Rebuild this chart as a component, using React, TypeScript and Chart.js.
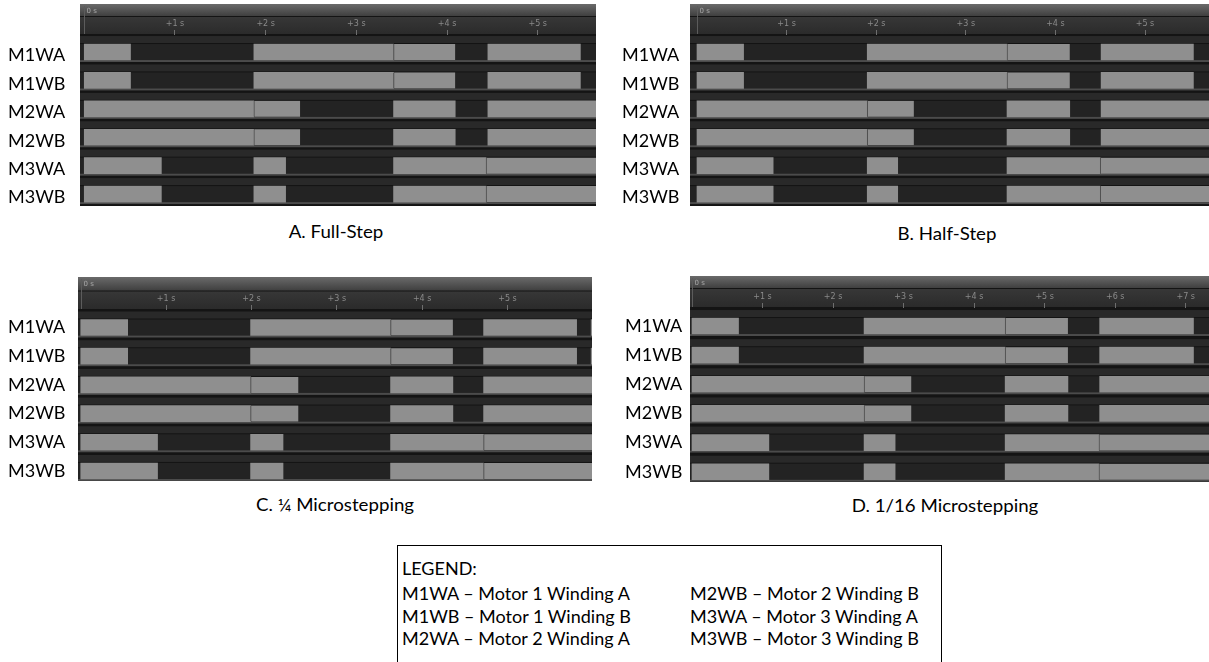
import React, { useEffect, useRef } from 'react';
import { Chart, registerables } from 'chart.js';

Chart.register(...registerables);

// ---------- data ----------
const channels = ['M1WA', 'M1WB', 'M2WA', 'M2WB', 'M3WA', 'M3WB'];

// A. Full-Step (seconds: [on, off])
const fullStepM1 = [[0, 0.51], [1.87, 3.41], [3.41, 4.09], [4.45, 5.47]];
const fullStepM2 = [[0, 1.87], [1.87, 2.38], [3.41, 4.09], [4.45, 7]];
const fullStepM3 = [[0, 0.85], [1.87, 2.22], [3.41, 4.43], [4.43, 7]];
const fullStepTicks = [1, 2, 3, 4, 5];

// B. Half-Step
const halfStepM1 = [[0, 0.52], [1.9, 3.46], [3.46, 4.16], [4.51, 5.54]];
const halfStepM2 = [[0, 1.9], [1.9, 2.42], [3.46, 4.16], [4.51, 7]];
const halfStepM3 = [[0, 0.85], [1.9, 2.24], [3.46, 4.5], [4.5, 7]];
const halfStepTicks = [1, 2, 3, 4, 5];

// C. 1/4 Microstepping
const quarterM1 = [[0, 0.55], [1.99, 3.63], [3.63, 4.36], [4.72, 5.81], [5.98, 7]];
const quarterM2 = [[0, 1.99], [1.99, 2.55], [3.63, 4.36], [4.72, 7]];
const quarterM3 = [[0, 0.9], [1.99, 2.37], [3.63, 4.72], [4.72, 7]];
const quarterTicks = [1, 2, 3, 4, 5];

// D. 1/16 Microstepping
const sixteenthM1 = [[0, 0.66], [2.44, 4.44], [4.44, 5.33], [5.78, 7.11]];
const sixteenthM2 = [[0, 2.44], [2.44, 3.11], [4.44, 5.33], [5.78, 9]];
const sixteenthM3 = [[0, 1.09], [2.44, 2.88], [4.44, 5.77], [5.77, 9]];
const sixteenthTicks = [1, 2, 3, 4, 5, 6, 7];

const captions = ['A. Full-Step', 'B. Half-Step', 'C. \u00BC Microstepping', 'D. 1/16 Microstepping'];

const legendTitle = 'LEGEND:';
const legendCodes = ['M1WA', 'M1WB', 'M2WA', 'M2WB', 'M3WA', 'M3WB'];
const legendNames = [
  'Motor 1 Winding A',
  'Motor 1 Winding B',
  'Motor 2 Winding A',
  'Motor 2 Winding B',
  'Motor 3 Winding A',
  'Motor 3 Winding B',
];

// ---------- layout ----------
type PanelCfg = {
  rows: number[][][];
  ticks: number[];
  box: { left: number; top: number; width: number; height: number };
  labelX: number;
  panelLeft: number;
  panelRight: number;
  panelTop: number;
  bandBottom: number;
  axisBottom: number;
  panelBottom: number;
  tMin: number;
  tMax: number;
  yMin: number;
  yMax: number;
  labelOffset: number;
};

const panels: PanelCfg[] = [
  {
    rows: [fullStepM1, fullStepM1, fullStepM2, fullStepM2, fullStepM3, fullStepM3],
    ticks: fullStepTicks,
    box: { left: 0, top: 0, width: 600, height: 212 },
    labelX: 8, panelLeft: 80, panelRight: 596,
    panelTop: 4, bandBottom: 17, axisBottom: 35, panelBottom: 206,
    tMin: -0.047, tMax: 5.642, yMin: -0.599, yMax: 5.42, labelOffset: 3.5,
  },
  {
    rows: [halfStepM1, halfStepM1, halfStepM2, halfStepM2, halfStepM3, halfStepM3],
    ticks: halfStepTicks,
    box: { left: 600, top: 0, width: 609, height: 212 },
    labelX: 622, panelLeft: 690, panelRight: 1209,
    panelTop: 4, bandBottom: 17, axisBottom: 35, panelBottom: 206,
    tMin: -0.078, tMax: 5.714, yMin: -0.599, yMax: 5.42, labelOffset: 3.5,
  },
  {
    rows: [quarterM1, quarterM1, quarterM2, quarterM2, quarterM3, quarterM3],
    ticks: quarterTicks,
    box: { left: 0, top: 272, width: 600, height: 212 },
    labelX: 8, panelLeft: 78, panelRight: 592,
    panelTop: 277, bandBottom: 291.5, axisBottom: 310, panelBottom: 481,
    tMin: -0.032, tMax: 5.99, yMin: -0.61, yMax: 5.35, labelOffset: 0,
  },
  {
    rows: [sixteenthM1, sixteenthM1, sixteenthM2, sixteenthM2, sixteenthM3, sixteenthM3],
    ticks: sixteenthTicks,
    box: { left: 600, top: 272, width: 609, height: 212 },
    labelX: 625, panelLeft: 690, panelRight: 1209,
    panelTop: 276, bandBottom: 289, axisBottom: 308, panelBottom: 482,
    tMin: -0.028, tMax: 7.33, yMin: -0.618, yMax: 5.353, labelOffset: 0,
  },
];

const captionPos = [
  { cx: 336, cy: 232 },
  { cx: 947, cy: 234 },
  { cx: 335, cy: 505 },
  { cx: 945, cy: 506 },
];

function zeroPad(s: any) {
  s.paddingTop = 0;
  s.paddingBottom = 0;
  s.paddingLeft = 0;
  s.paddingRight = 0;
}

function Panel({ cfg }: { cfg: PanelCfg }) {
  const ref = useRef<HTMLCanvasElement>(null);
  useEffect(() => {
    const c = cfg;
    const oy = c.box.top;
    const data: any[] = [];
    c.rows.forEach((segs, i) =>
      segs.forEach((s, k) => {
        const prev = segs[k - 1];
        data.push({ x: [s[0], s[1]], y: i, joined: !!prev && prev[1] === s[0] });
      })
    );

    const bgPlugin = {
      id: 'panelBg',
      beforeDraw(chart: any) {
        const { ctx, chartArea: a } = chart;
        const ys = chart.scales.y;
        const xs = chart.scales.x;
        const L = a.left;
        const W = a.right - a.left;
        const pTop = c.panelTop - oy;
        const bBot = c.bandBottom - oy;
        const aBot = c.axisBottom - oy;
        const pBot = c.panelBottom - oy;
        ctx.save();
        ctx.fillStyle = '#141414';
        ctx.fillRect(L, pTop, W, pBot - pTop);
        let g = ctx.createLinearGradient(0, pTop, 0, bBot);
        g.addColorStop(0, '#6a6a6a');
        g.addColorStop(1, '#3c3c3c');
        ctx.fillStyle = g;
        ctx.fillRect(L, pTop, W, bBot - pTop - 1);
        g = ctx.createLinearGradient(0, bBot, 0, aBot);
        g.addColorStop(0, '#373737');
        g.addColorStop(1, '#2a2a2a');
        ctx.fillStyle = g;
        ctx.fillRect(L, bBot, W, aBot - bBot - 1);
        channels.forEach((_, i) => {
          const cy = ys.getPixelForValue(i);
          ctx.fillStyle = '#292929';
          ctx.fillRect(L, cy - 16, W, 7);
          ctx.fillStyle = '#232323';
          ctx.fillRect(L, cy - 8, W, 16);
          ctx.fillStyle = '#4b4b4b';
          ctx.fillRect(L, cy + 8, W, 2);
        });
        const x0 = Math.round(xs.getPixelForValue(0)) + 0.5;
        ctx.strokeStyle = '#5c5c5c';
        ctx.lineWidth = 1;
        ctx.beginPath();
        ctx.moveTo(x0, pTop + 2);
        ctx.lineTo(x0, aBot - 1);
        ctx.stroke();
        ctx.fillStyle = '#a8a8a8';
        ctx.font = '7px "DejaVu Sans"';
        ctx.textBaseline = 'alphabetic';
        ctx.textAlign = 'left';
        ctx.fillText('0 s', x0 + 2, pTop + 8.5);
        ctx.restore();
      },
    };

    const chart = new Chart(ref.current as HTMLCanvasElement, {
      type: 'bar',
      data: {
        datasets: [
          {
            data,
            backgroundColor: '#8f8f8f',
            borderColor: '#4a4a4a',
            borderWidth: (ctx: any) =>
              ctx.raw && ctx.raw.joined ? { left: 1, right: 0, top: 0, bottom: 0 } : 0,
            borderSkipped: false,
            barThickness: 16,
          } as any,
        ],
      },
      options: {
        indexAxis: 'y',
        responsive: false,
        animation: false,
        devicePixelRatio: 1,
        events: [],
        layout: {
          padding: {
            left: c.labelX - c.box.left,
            top: c.panelTop - c.box.top,
            right: c.box.left + c.box.width - c.panelRight,
            bottom: c.box.top + c.box.height - c.panelBottom,
          },
        },
        plugins: { legend: { display: false }, tooltip: { enabled: false } },
        scales: {
          x: {
            type: 'linear',
            position: 'top',
            offset: false,
            min: c.tMin,
            max: c.tMax,
            afterBuildTicks: (s: any) => {
              s.ticks = c.ticks.map((v) => ({ value: v }));
            },
            afterFit: (s: any) => {
              s.height = c.axisBottom - c.panelTop;
              zeroPad(s);
            },
            ticks: {
              callback: (v: any) => `+${v} s`,
              font: { family: 'DejaVu Sans', size: 8 },
              color: '#8a8a8a',
              padding: 1,
              maxRotation: 0,
              autoSkip: false,
            },
            grid: { drawOnChartArea: false, tickLength: 5, color: '#6e6e6e', offset: false },
            border: { display: false },
          },
          y: {
            type: 'linear',
            reverse: true,
            offset: false,
            min: c.yMin,
            max: c.yMax,
            afterBuildTicks: (s: any) => {
              s.ticks = channels.map((_, i) => ({ value: i }));
            },
            afterFit: (s: any) => {
              s.width = c.panelLeft - c.labelX;
              zeroPad(s);
            },
            ticks: {
              callback: (v: any) => channels[v],
              font: { family: 'Lato', size: 18 },
              color: '#000000',
              crossAlign: 'far',
              labelOffset: c.labelOffset,
              padding: 0,
              autoSkip: false,
            },
            grid: { display: false, offset: false },
            border: { display: false },
          },
        },
      } as any,
      plugins: [bgPlugin],
    });
    return () => chart.destroy();
  }, [cfg]);
  return (
    <canvas
      ref={ref}
      width={cfg.box.width}
      height={cfg.box.height}
      style={{
        position: 'absolute',
        left: cfg.box.left,
        top: cfg.box.top,
        width: cfg.box.width,
        height: cfg.box.height,
      }}
    />
  );
}

export default function App() {
  const textFont = 'Lato, "Open Sans", sans-serif';
  return (
    <div
      style={{
        position: 'absolute',
        left: 0,
        top: 0,
        width: 1209,
        height: 662,
        overflow: 'hidden',
        background: '#ffffff',
        fontFamily: textFont,
        color: '#000',
      }}
    >
      {panels.map((p, i) => (
        <Panel key={i} cfg={p} />
      ))}
      {captions.map((t, i) => (
        <div
          key={t}
          style={{
            position: 'absolute',
            left: captionPos[i].cx - 200,
            top: captionPos[i].cy - 11,
            width: 400,
            height: 22,
            lineHeight: '22px',
            textAlign: 'center',
            fontSize: 17,
            whiteSpace: 'nowrap',
            transform: 'scaleX(1.1)',
            transformOrigin: '50% 50%',
          }}
        >
          {t}
        </div>
      ))}
      <div
        style={{
          position: 'absolute',
          left: 397,
          top: 545,
          width: 545,
          height: 130,
          border: '1px solid #000',
          boxSizing: 'border-box',
        }}
      />
      <div style={{ position: 'absolute', left: 402, top: 557, fontSize: 18, lineHeight: '22px', whiteSpace: 'nowrap' }}>
        {legendTitle}
      </div>
      {legendCodes.map((code, i) => {
        const col = Math.floor(i / 3);
        const row = i % 3;
        return (
          <div
            key={code}
            style={{
              position: 'absolute',
              left: col === 0 ? 402 : 690,
              top: 582 + row * 22.5,
              fontSize: 18,
              lineHeight: '22px',
              whiteSpace: 'nowrap',
            }}
          >
            {code} {'\u2013'} {legendNames[i]}
          </div>
        );
      })}
    </div>
  );
}
